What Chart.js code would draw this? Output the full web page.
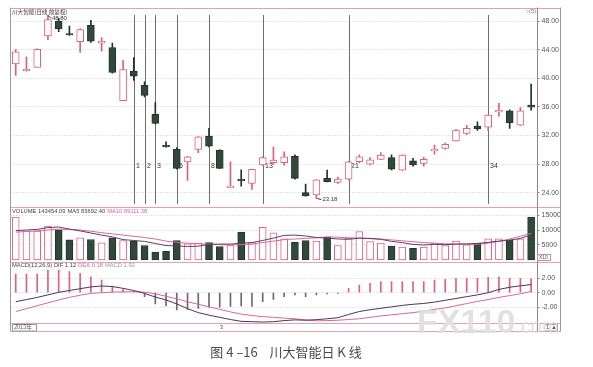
<!DOCTYPE html>
<html>
<head>
<meta charset="utf-8">
<script src="https://cdn.jsdelivr.net/npm/chart.js@4.4.1/dist/chart.umd.min.js"></script>
<style>
  html, body { margin: 0; padding: 0; background: #fff; }
  #wrap { position: relative; width: 593px; height: 367px; }
  #c { position: absolute; left: 0; top: 0; }
  #cap { position: absolute; left: 0; top: 344px; width: 572px; text-align: center;
         font: 13px "Noto Sans CJK SC", sans-serif; color: #4a4a4a; line-height: 16px; white-space: pre; }
</style>
</head>
<body>
<div id="wrap">
  <canvas id="c" width="593" height="367"></canvas>
  <div id="cap">图 4 –16    川大智能日 K 线</div>
</div>
<script>
// ---- daily sessions ----
const sessions = ['1','2','3','4','5','6','7','8','9','10','11','12','13','14','15','16','17','18','19','20',
  '21','22','23','24','25','26','27','28','29','30','31','32','33','34','35','36','37','38','39','40',
  '41','42','43','44','45','46','47','48','49'];

// ---- prices ----
const openPx  = [42.0,41.05,41.5,45.9,48.0,46.15,45.1,47.4,44.9,44.3,36.85,41.0,39.0,34.95,30.45,30.05,28.3,30.05,31.9,29.95,
  24.7,25.7,25.3,27.9,28.2,28.2,29.1,24.0,23.7,26.0,25.45,25.9,28.35,28.0,28.65,28.9,27.15,28.45,28.1,29.85,
  30.2,31.25,32.3,33.3,33.15,35.3,35.45,33.45,36.25];
const highPx  = [44.0,43.0,44.1,48.8,48.4,47.3,46.9,48.1,45.7,44.9,42.5,42.9,39.5,36.6,31.1,30.3,29.1,31.85,33.0,30.0,
  28.3,27.2,27.3,29.0,30.4,29.7,29.3,25.2,25.85,27.15,26.2,28.4,29.3,28.9,29.6,29.3,29.3,28.8,28.95,30.65,
  30.95,32.85,33.4,33.9,34.9,36.5,35.6,35.9,39.2];
const lowPx   = [40.4,41.0,41.5,45.4,46.5,46.0,43.6,45.0,43.8,40.7,36.85,39.7,37.4,33.6,30.35,27.3,25.7,29.6,30.4,27.35,
  24.7,24.9,24.45,27.8,28.0,27.8,25.9,23.5,23.18,25.5,25.3,25.8,28.2,27.9,28.6,27.2,27.1,27.7,27.7,29.4,
  30.1,31.2,32.1,32.7,32.7,34.7,33.0,33.4,35.55];
const closePx = [43.7,41.15,44.05,48.2,46.9,46.05,46.8,45.2,45.2,40.8,41.2,40.3,37.6,33.7,30.4,27.4,29.0,31.8,30.5,27.4,
  24.8,25.65,27.25,28.9,28.55,29.0,26.0,23.55,25.8,25.55,25.9,28.3,29.0,28.6,29.25,27.3,29.25,27.9,28.65,30.05,
  30.75,32.75,33.0,32.95,34.85,35.45,33.8,35.45,35.95];
const priceTicks = [24,26,28,30,32,34,36,38,40,42,44,46,48];

// ---- volume (x10) and its averages ----
const volume = [14267,9600,9600,11270,10060,6730,7400,6830,5730,7400,6500,6270,4830,2600,2930,6500,5400,5600,5830,4500,
  4830,9270,5800,10930,9070,7070,5930,6500,6270,7600,4830,7270,9500,6170,5600,4600,4270,3930,4270,5600,
  4830,6270,5070,5600,7070,7070,6730,7070,14345.409];
const volMA5 = [9800,10000,10200,10800,11000,10300,9700,9000,8300,7700,6800,6500,6200,5500,4800,4700,4500,4600,5200,5300,
  5300,5600,5800,6500,7300,8200,8300,8000,7500,7300,7000,6900,7300,7200,6900,6200,5800,5200,5000,5200,
  5100,5300,5400,5500,5900,6300,6600,7200,8369.24];
const volMA10 = [9300,9500,9700,10000,10300,10200,10000,9600,9100,8700,8300,7900,7500,7000,6300,5900,5600,5400,5300,5100,
  5000,5100,5300,5800,6300,6800,7000,7200,7400,7700,7600,7400,7300,7100,7000,6700,6400,6100,5800,5600,
  5400,5300,5200,5200,5600,6200,7000,7900,8911.138];
const volTicks = [5000,10000,15000];

// ---- MACD(12,26,9) ----
const macdDIF = [-1.24,-0.95,-0.65,-0.3,0.05,0.3,0.55,0.8,0.92,0.85,0.6,0.3,-0.1,-0.6,-1.0,-1.55,-2.2,-2.75,-3.1,-3.4,
  -3.7,-3.95,-4.0,-4.05,-4.0,-3.85,-3.75,-3.8,-3.72,-3.6,-3.45,-3.0,-2.6,-2.35,-2.15,-1.95,-1.75,-1.6,-1.48,-1.3,
  -1.05,-0.8,-0.55,-0.3,0.0,0.45,0.75,0.95,1.12];
const macdDEA = [-2.6,-2.2,-1.8,-1.4,-1.0,-0.65,-0.35,-0.1,0.0,0.08,0.12,0.14,0.08,-0.15,-0.5,-0.85,-1.25,-1.6,-1.95,-2.3,
  -2.65,-2.95,-3.15,-3.3,-3.4,-3.5,-3.6,-3.75,-3.88,-3.85,-3.8,-3.7,-3.6,-3.4,-3.2,-3.05,-2.9,-2.75,-2.55,-2.3,
  -2.1,-1.8,-1.5,-1.2,-0.95,-0.65,-0.4,-0.15,0.18];
const macdBar = [2.58,2.58,2.58,3.13,3.13,2.9,2.67,2.2,1.75,0.92,0.46,0.14,-0.55,-1.56,-1.83,-2.38,-2.3,-2.16,-2.0,-2.0,
  -1.9,-1.83,-1.9,-1.24,-0.92,-0.55,-0.32,-0.55,-0.32,-0.18,-0.1,0.6,1.06,1.29,1.52,1.52,1.52,1.52,1.52,1.75,
  1.84,1.98,1.98,1.98,2.12,2.2,1.98,1.98,1.92];
const macdTicks = [-2,0,2];

// ---- Fibonacci time zones, counted from session index 11 ----
const fibStart = 11;
const fibDays = [1,2,3,5,8,13,21,34];

// ---- styling ----
const UP = '#e0607f';
const DOWN_FILL = '#2f4a3c';
const DOWN_EDGE = '#26302a';
const GRID = '#cfcfcf';
const TXT = '#555';
const FONT = '"Liberation Sans", Arial, sans-serif';
const CJK = '"Noto Sans CJK SC", sans-serif';

const isUp = closePx.map((c, i) => c >= openPx[i]);
const wicks = highPx.map((h, i) => [lowPx[i], h]);
const bodies = openPx.map((o, i) => [Math.min(o, closePx[i]), Math.max(o, closePx[i])]);

function rightAxis(weight, min, max, tickValues, fmt) {
  return {
    type: 'linear', position: 'right', stack: 'panels', stackWeight: weight,
    min: min, max: max,
    afterBuildTicks: s => { s.ticks = tickValues.map(v => ({ value: v })); },
    afterFit: s => { s.width = 24; },
    ticks: { font: { size: 7, family: FONT }, color: TXT, padding: 2, callback: fmt },
    grid: { color: GRID, lineWidth: 1, tickLength: 3, tickColor: '#8a8a8a', tickBorderDash: [] },
    border: { display: false, dash: [1, 2] }
  };
}

function seg(ctx, parts, x, y) {
  parts.forEach(([t, col]) => {
    ctx.fillStyle = col;
    ctx.fillText(t, x, y);
    x += ctx.measureText(t).width + 2;
  });
}

const decor = {
  id: 'decor',
  beforeDatasetsDraw(chart) {
    const { ctx, scales } = chart;
    const xs = scales.x, ym = scales.yMain;
    ctx.save();
    ctx.strokeStyle = '#6e6e6e';
    ctx.lineWidth = 1;
    ctx.font = '7px ' + FONT;
    ctx.textBaseline = 'middle';
    ctx.fillStyle = '#333';
    fibDays.forEach(d => {
      const px = Math.round(xs.getPixelForValue(fibStart + d - 1)) + 0.5;
      ctx.beginPath();
      ctx.moveTo(px, 15);
      ctx.lineTo(px, ym.bottom - 3);
      ctx.stroke();
      ctx.fillText(String(d), px + 1.5, 166);
    });
    ctx.restore();
  },
  afterDraw(chart) {
    const { ctx, chartArea: a, scales } = chart;
    const xs = scales.x, ym = scales.yMain, yv = scales.yVol, yd = scales.yMacd;
    const L = 10.5, R = 560.5, B = 331.5;
    ctx.save();

    // frame and panel separators
    ctx.lineWidth = 1;
    ctx.strokeStyle = '#e3a2b4';
    [Math.round(a.top) + 0.5, Math.round(ym.bottom) + 0.5, Math.round(yv.bottom) + 0.5, Math.round(yd.bottom) + 0.5, B].forEach(y => {
      ctx.beginPath(); ctx.moveTo(L, y); ctx.lineTo(R, y); ctx.stroke();
    });
    ctx.strokeStyle = '#9a9a9a';
    ctx.beginPath(); ctx.moveTo(L, a.top); ctx.lineTo(L, B); ctx.stroke();
    ctx.beginPath(); ctx.moveTo(R, a.top); ctx.lineTo(R, B); ctx.stroke();
    ctx.strokeStyle = '#8a8a8a';
    const ax = Math.round(a.right) + 0.5;
    ctx.beginPath(); ctx.moveTo(ax, a.top); ctx.lineTo(ax, B); ctx.stroke();

    // panel titles
    ctx.textBaseline = 'middle';
    ctx.font = '5.6px ' + CJK;
    ctx.fillStyle = '#333';
    ctx.fillText('川大智能(日线 前复权)', 12, 12);
    ctx.font = '5.8px ' + FONT;
    const last = volume.length - 1;
    seg(ctx, [
      ['VOLUME ' + (volume[last] * 10).toFixed(2), '#444'],
      ['MA5 ' + (volMA5[last] * 10).toFixed(2), '#444'],
      ['MA10 ' + (volMA10[last] * 10).toFixed(2), '#d9689a']
    ], 12, ym.bottom + 4.5);
    seg(ctx, [
      ['MACD(12,26,9) DIF ' + macdDIF[last].toFixed(2), '#444'],
      ['DEA ' + macdDEA[last].toFixed(2), '#d9689a'],
      ['MACD ' + macdBar[last].toFixed(2), '#999']
    ], 12, yv.bottom + 3.5);
    ctx.fillStyle = '#777';
    ctx.fillText('○(5)', a.right - 11, 11);

    // extreme price markers
    let hi = 0, lo = 0;
    highPx.forEach((v, i) => { if (v > highPx[hi]) hi = i; });
    lowPx.forEach((v, i) => { if (v < lowPx[lo]) lo = i; });
    ctx.strokeStyle = '#333';
    ctx.fillStyle = '#333';
    ctx.font = '6px ' + FONT;
    let hx = xs.getPixelForValue(hi), hy = ym.getPixelForValue(highPx[hi]);
    ctx.beginPath(); ctx.moveTo(hx, hy); ctx.lineTo(hx + 3, hy + 3); ctx.stroke();
    ctx.fillText(highPx[hi].toFixed(2), hx + 4, hy + 3.5);
    let lx = xs.getPixelForValue(lo), ly = ym.getPixelForValue(lowPx[lo]);
    ctx.beginPath(); ctx.moveTo(lx + 1, ly); ctx.lineTo(lx + 5, ly + 1); ctx.stroke();
    ctx.fillText(lowPx[lo].toFixed(2), lx + 6, ly + 1);

    // volume unit box
    ctx.strokeStyle = '#d98aa2';
    ctx.strokeRect(537.5, yv.bottom - 7.5, 13, 6);
    ctx.fillStyle = '#555';
    ctx.font = '5px ' + FONT;
    ctx.fillText('X10', 539, yv.bottom - 4.5);

    // date strip
    const sy = (yd.bottom + B) / 2;
    ctx.strokeStyle = '#9a9a9a';
    ctx.strokeRect(12.5, yd.bottom + 1.5, 24, 6.5);
    ctx.fillStyle = '#555';
    ctx.font = '5.5px ' + CJK;
    ctx.fillText('2015年', 14, sy);
    const mx = xs.getPixelForValue(19);
    ctx.font = '6px ' + FONT;
    ctx.fillText('3', mx, sy);
    ctx.strokeRect(544.5, yd.bottom + 1.5, 13, 6.5);
    ctx.fillText('1 ▲', 546, sy);

    // site mark
    ctx.fillStyle = 'rgba(222,222,222,0.92)';
    ctx.textBaseline = 'alphabetic';
    ctx.font = 'bold 34px ' + FONT;
    ctx.fillText('FX110', 417, 333);
    const w = ctx.measureText('FX110').width;
    ctx.font = '20px ' + FONT;
    ctx.fillText('.com', 417 + w, 333);
    ctx.restore();
  }
};

new Chart(document.getElementById('c'), {
  data: {
    labels: sessions,
    datasets: [
      { type: 'bar', label: 'body', yAxisID: 'yMain', data: bodies, grouped: false, order: 0,
        barThickness: 7, minBarLength: 1.5, borderWidth: 1, borderSkipped: false,
        backgroundColor: isUp.map(u => u ? '#ffffff' : DOWN_FILL),
        borderColor: isUp.map(u => u ? UP : DOWN_EDGE) },
      { type: 'bar', label: 'wick', yAxisID: 'yMain', data: wicks, grouped: false, order: 1,
        barThickness: 1, borderWidth: 0,
        backgroundColor: isUp.map(u => u ? UP : DOWN_EDGE) },
      { type: 'line', label: 'MA5', yAxisID: 'yVol', data: volMA5, order: -1,
        borderColor: '#5b3f66', borderWidth: 1, pointRadius: 0 },
      { type: 'line', label: 'MA10', yAxisID: 'yVol', data: volMA10, order: -1,
        borderColor: '#d9689a', borderWidth: 1, pointRadius: 0 },
      { type: 'bar', label: 'VOLUME', yAxisID: 'yVol', data: volume, grouped: false, order: 2,
        barThickness: 7, borderWidth: 1, borderSkipped: false,
        backgroundColor: isUp.map(u => u ? '#ffffff' : DOWN_FILL),
        borderColor: isUp.map(u => u ? UP : DOWN_EDGE) },
      { type: 'line', label: 'DIF', yAxisID: 'yMacd', data: macdDIF, order: -1,
        borderColor: '#4b3656', borderWidth: 1, pointRadius: 0 },
      { type: 'line', label: 'DEA', yAxisID: 'yMacd', data: macdDEA, order: -1,
        borderColor: '#d9689a', borderWidth: 1, pointRadius: 0 },
      { type: 'bar', label: 'MACD', yAxisID: 'yMacd', data: macdBar, grouped: false, order: 3,
        barThickness: 1, borderWidth: 0,
        backgroundColor: macdBar.map(v => v >= 0 ? UP : '#6a6a6a') }
    ]
  },
  options: {
    responsive: false,
    animation: false,
    devicePixelRatio: 1,
    events: [],
    layout: { padding: { left: 10.35, right: 32.5, top: 7.5, bottom: 44 } },
    plugins: { legend: { display: false }, tooltip: { enabled: false } },
    scales: {
      x: { type: 'category', offset: true, display: false, grid: { display: false } },
      yMain: rightAxis(199.5, 22.0, 49.89, priceTicks, v => v.toFixed(2)),
      yVol: rightAxis(55, -667, 17667, volTicks, v => String(v)),
      yMacd: rightAxis(61, -4.18, 4.234, macdTicks, v => v.toFixed(2))
    }
  },
  plugins: [decor]
});
</script>
</body>
</html>
